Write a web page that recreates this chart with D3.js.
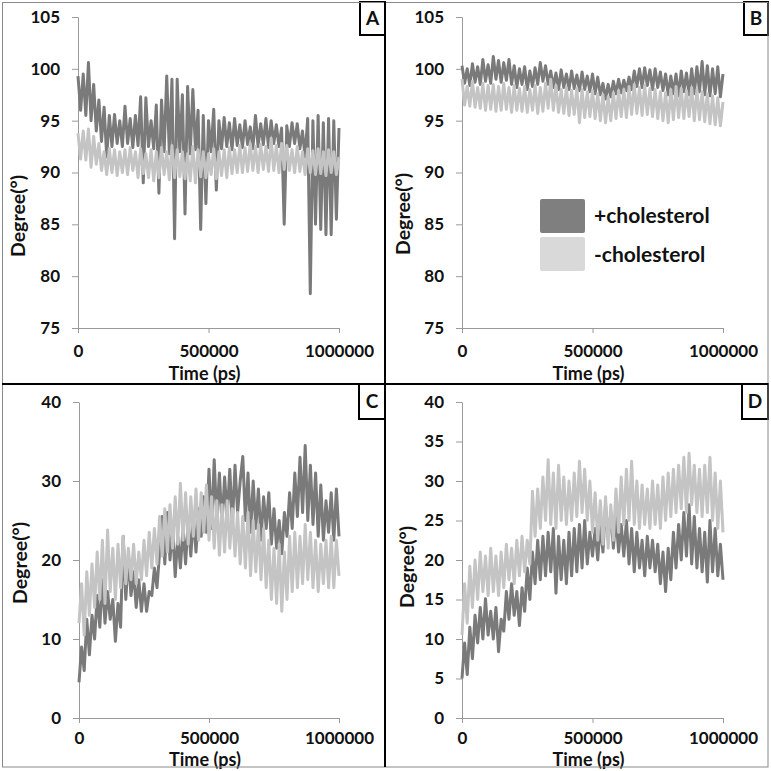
<!DOCTYPE html>
<html><head><meta charset="utf-8">
<script src="https://cdn.jsdelivr.net/npm/d3@7"></script>
<style>
html,body{margin:0;padding:0;background:#fff;}
svg{display:block;}
text{font-family:Lato,"Open Sans",sans-serif;font-weight:700;fill:#111;}
</style></head>
<body>
<script>
// ---------- DATA ----------
const times = d3.range(0, 1000001, 10000); // sampling times (ps)
const xTicks = [0, 500000, 1000000];
const yTicksAB = [75, 80, 85, 90, 95, 100, 105];
const yTicksC = [0, 10, 20, 30, 40];
const yTicksD = [0, 5, 10, 15, 20, 25, 30, 35, 40];
const panelLetters = ["A", "B", "C", "D"];
const seriesNames = ["+cholesterol", "-cholesterol"];

const A_plus = [99.3,96.0,99.5,95.5,100.6,95.0,98.5,94.0,97.0,93.0,96.3,91.5,95.5,92.5,95.6,92.8,95.0,92.5,96.4,92.8,
95.2,92.4,95.5,92.6,97.3,89.0,97.2,92.5,95.0,92.3,96.5,88.0,97.0,92.0,99.3,91.8,99.0,83.6,99.0,92.0,
97.5,86.0,98.3,91.8,98.0,92.2,96.0,84.5,95.5,87.0,95.0,92.0,96.1,88.3,95.0,92.3,95.3,92.5,94.8,92.2,
95.2,92.6,94.6,92.4,95.0,92.7,94.4,92.3,95.5,92.5,94.7,92.7,95.2,92.4,95.0,92.8,94.6,92.5,94.3,85.0,
94.5,92.5,94.8,92.8,94.7,92.3,94.0,91.5,95.2,78.3,95.0,85.0,95.5,84.5,94.8,84.0,95.2,84.0,95.0,85.5,94.3];
const A_minus = [93.8,91.3,94.0,91.2,94.2,90.5,93.5,90.8,92.8,90.2,92.0,89.8,92.3,90.0,92.2,89.7,92.0,90.0,92.2,89.8,
92.4,90.2,92.0,89.5,92.3,89.9,91.8,89.5,92.2,89.2,92.0,89.5,92.4,89.8,92.0,89.3,92.6,89.5,92.2,89.6,
92.0,89.4,91.8,89.2,92.5,89.0,92.2,89.6,92.0,89.5,91.8,89.8,92.3,89.4,92.0,89.7,92.2,89.5,92.4,89.9,
92.2,90.0,92.6,90.0,92.4,90.1,92.8,90.2,92.5,90.0,92.7,90.3,92.5,90.1,93.3,90.2,92.6,90.0,92.8,90.3,
92.6,90.2,92.2,90.0,92.5,90.1,92.0,89.8,92.3,90.0,92.1,89.8,92.3,89.9,92.0,89.7,92.2,90.0,92.0,89.8,91.5];

const B_plus = [100.3,98.6,100.0,98.4,100.5,98.7,100.2,98.5,100.9,98.8,100.4,98.6,101.2,99.0,100.8,98.7,100.6,98.9,100.9,98.5,
100.3,98.2,100.0,98.5,100.2,98.0,99.8,98.3,100.1,98.5,100.6,98.8,100.3,98.5,99.8,98.2,99.6,98.0,99.9,98.2,
99.5,98.0,99.8,98.1,99.4,97.9,99.7,98.0,99.3,97.8,99.5,97.6,99.2,97.5,98.6,97.1,98.5,97.3,98.8,97.6,
99.0,97.7,98.9,97.9,99.2,98.0,99.8,98.3,100.0,98.2,100.1,98.4,99.9,98.0,100.0,98.2,99.7,97.9,99.5,97.5,
99.3,97.6,99.5,97.4,99.8,97.8,99.6,97.5,100.0,97.6,100.2,97.8,100.7,97.5,100.3,97.4,100.0,97.6,100.2,97.3,99.5];
const B_minus = [99.0,96.5,98.3,96.4,98.8,96.3,98.2,96.2,98.6,96.0,98.4,96.1,98.5,95.9,98.3,96.0,98.6,96.1,98.2,95.8,
98.4,96.0,98.1,95.9,98.3,95.8,98.0,96.0,98.4,95.7,98.2,95.9,98.6,96.2,99.0,96.0,98.4,95.8,98.0,95.7,
98.2,95.5,97.9,95.6,98.1,94.8,98.0,95.3,97.8,95.4,97.9,95.2,97.6,95.0,97.5,94.8,97.3,95.0,97.7,95.2,
97.9,95.4,98.0,95.3,98.3,95.6,98.5,95.7,98.2,95.5,98.4,95.6,98.1,95.4,98.0,95.2,97.8,95.0,97.7,94.8,
98.0,95.1,98.3,95.3,98.1,95.2,97.9,95.4,98.2,95.0,98.0,95.1,97.8,94.9,97.6,94.7,97.4,94.6,97.2,94.5,96.8];

const C_plus = [4.5,9.0,6.0,12.5,8.0,13.0,10.0,15.5,11.5,17.5,12.0,16.0,12.5,15.0,9.7,14.5,11.5,23.0,15.0,20.5,
15.5,18.5,14.0,17.5,13.5,17.0,13.5,16.0,15.5,19.0,16.5,21.0,25.5,19.5,26.0,20.0,24.0,17.9,23.0,19.0,
24.0,19.5,25.0,20.5,25.5,21.0,26.5,23.0,28.0,23.5,31.5,24.0,32.7,25.0,31.0,24.5,30.5,25.5,31.5,24.5,
32.0,26.0,30.0,33.1,25.0,31.0,23.5,30.0,24.0,29.0,22.5,28.0,24.0,28.5,22.0,26.5,21.5,25.0,20.8,26.0,
23.0,28.5,24.0,31.0,25.5,33.0,26.0,34.5,25.0,32.0,24.5,31.0,23.0,29.5,22.5,27.5,23.5,28.5,22.5,29.0,23.0];
const C_minus = [12.0,17.0,10.5,18.5,13.0,19.5,14.0,21.0,15.0,22.5,14.5,23.8,16.0,21.5,15.0,22.0,16.5,23.0,17.0,21.5,
17.5,22.0,17.0,21.0,17.5,22.5,18.0,23.5,19.0,24.0,19.5,25.5,20.5,26.5,21.0,27.0,21.5,28.0,22.0,29.7,
22.5,28.5,22.0,28.0,23.0,29.0,22.5,28.5,23.5,29.5,22.5,28.0,21.5,27.5,20.6,27.0,21.0,27.5,21.5,26.5,
20.5,26.0,19.5,25.5,19.0,26.0,18.0,25.0,18.5,24.5,17.5,24.0,16.5,22.5,15.0,21.5,14.5,22.0,13.5,21.0,
15.0,23.0,16.0,23.5,16.5,23.0,17.0,24.5,17.5,23.5,16.5,22.5,16.0,22.0,17.0,22.5,16.5,23.0,16.5,22.5,18.0];

const D_plus = [5.0,9.5,5.5,11.5,7.5,13.0,9.5,14.0,10.0,15.1,10.5,13.5,10.0,14.0,8.4,12.5,11.0,16.0,12.5,17.0,
13.0,16.0,11.7,16.5,13.5,19.0,15.0,21.0,17.0,22.5,17.5,23.0,18.0,23.5,18.5,24.0,15.8,23.0,17.5,22.5,
17.0,23.5,18.0,24.0,18.5,24.5,19.0,25.0,19.5,23.5,20.5,24.0,20.0,24.5,21.0,27.0,22.5,26.0,21.5,25.5,
21.0,24.5,20.5,25.0,19.5,24.0,18.5,23.5,19.0,22.5,18.0,23.0,19.0,22.5,18.5,22.0,17.0,21.0,16.0,21.5,
17.5,23.5,19.0,24.5,20.0,26.0,20.5,27.0,19.5,25.5,19.0,24.0,18.5,23.5,17.2,25.0,18.5,24.0,18.0,22.0,17.5];
const D_minus = [10.5,17.0,12.0,19.2,14.0,20.0,15.0,21.0,16.0,20.5,15.5,21.5,16.0,20.5,15.5,21.0,16.5,22.0,17.5,21.5,
17.0,22.5,18.0,23.0,18.5,22.5,19.5,28.7,23.0,29.0,24.0,30.5,25.0,32.7,24.5,31.0,24.0,32.0,25.0,30.5,
24.5,30.0,25.0,31.0,25.5,32.5,26.0,31.5,25.0,30.0,23.5,28.5,22.5,27.5,22.0,28.0,21.5,27.0,22.5,29.0,
23.5,30.5,24.5,31.5,25.0,32.5,24.5,30.0,24.0,29.5,24.5,29.0,24.0,30.0,24.5,29.5,24.0,30.5,25.0,31.0,
25.5,31.5,26.0,32.0,26.5,33.0,26.0,33.5,27.0,32.0,26.0,31.5,25.5,32.0,26.0,33.0,25.0,31.0,24.0,30.0,23.5];

// ---------- LAYOUT ----------
const W = 771, H = 771;
const colors = ["#7a7a7a", "#c4c4c4"];
const legendColors = ["#7f7f7f", "#d9d9d9"];

const panels = [
  {letter:"A", plot:[78,339,17,328], dom:[75,105], ticks:yTicksAB, data:[A_plus,A_minus],
   box:[360,2,385,35], ylab:[18,216], tOff:52, pad:12},
  {letter:"B", plot:[462,723,17,328], dom:[75,105], ticks:yTicksAB, data:[B_plus,B_minus],
   box:[744,2,768,35], ylab:[403,214], legend:true, tOff:52, pad:12},
  {letter:"C", plot:[79,339,402,718], dom:[0,40], ticks:yTicksC, data:[C_plus,C_minus],
   box:[359,384,385,419], ylab:[20,563], tOff:47.5, pad:9},
  {letter:"D", plot:[462,723,402,718], dom:[0,40], ticks:yTicksD, data:[D_plus,D_minus],
   box:[742,384,768,419], ylab:[407,567], tOff:47.5, pad:9}
];

const svg = d3.select("body").append("svg").attr("width", W).attr("height", H);

panels.forEach((p, pi) => {
  const g = svg.append("g");
  const [x0, x1, yT, yB] = p.plot;
  const x = d3.scaleLinear().domain([0, 1000000]).range([x0, x1]);
  const y = d3.scaleLinear().domain(p.dom).range([yB, yT]);

  // y axis
  const ya = g.append("g").attr("transform", `translate(${x0},0)`)
    .call(d3.axisLeft(y).tickValues(p.ticks).tickSize(6).tickSizeOuter(0).tickPadding(12).tickFormat(d3.format("d")));
  ya.selectAll("path,line").attr("stroke", "#9a9a9a");
  ya.selectAll("text").style("font-size", "17px").attr("fill", "#111");

  // x axis
  const xa = g.append("g").attr("transform", `translate(0,${yB})`)
    .call(d3.axisBottom(x).tickValues(xTicks).tickSize(5).tickSizeOuter(0).tickPadding(p.pad).tickFormat(d3.format("d")));
  xa.selectAll("path,line").attr("stroke", "#9a9a9a");
  xa.selectAll("text").style("font-size", "17px").attr("fill", "#111");

  // series
  const line = d3.line().x((d, i) => x(times[i])).y(d => y(d));
  p.data.forEach((s, si) => {
    g.append("path").datum(s).attr("d", line)
      .attr("fill", "none").attr("stroke", colors[si]).attr("stroke-width", 3)
      .attr("stroke-linejoin", "round");
  });

  // axis titles
  g.append("text").attr("x", (x0 + x1) / 2 - 4).attr("y", yB + p.tOff).attr("text-anchor", "middle")
    .style("font-size", "18px").text("Time (ps)");
  g.append("text").attr("transform", `translate(${p.ylab[0]},${p.ylab[1]}) rotate(-90)`)
    .attr("text-anchor", "middle").attr("dy", "0.35em").style("font-size", "19.5px").text("Degree(°)");

  // letter box
  const [bx0, by0, bx1, by1] = p.box;
  g.append("rect").attr("x", bx0).attr("y", by0).attr("width", bx1 - bx0).attr("height", by1 - by0)
    .attr("fill", "#fff").attr("stroke", "#000").attr("stroke-width", 2);
  g.append("text").attr("x", (bx0 + bx1) / 2).attr("y", (by0 + by1) / 2).attr("dy", "0.36em")
    .attr("text-anchor", "middle").style("font-size", "19px").text(p.letter);

  // legend
  if (p.legend) {
    seriesNames.forEach((n, i) => {
      g.append("rect").attr("x", 540).attr("y", 199 + i * 38).attr("width", 45).attr("height", 34)
        .attr("rx", 2).attr("fill", legendColors[i]);
      g.append("text").attr("x", 594).attr("y", 216 + i * 39).attr("dy", "0.35em")
        .style("font-size", "21px").text(n);
    });
  }
});

// frame and dividers
svg.append("rect").attr("x", 2.5).attr("y", 2.5).attr("width", 765.5).attr("height", 764.5)
  .attr("fill", "none").attr("stroke", "#8a8a8a").attr("stroke-width", 1);
svg.append("line").attr("x1", 385).attr("x2", 385).attr("y1", 2).attr("y2", 767)
  .attr("stroke", "#000").attr("stroke-width", 2);
svg.append("line").attr("x1", 2).attr("x2", 768).attr("y1", 384).attr("y2", 384)
  .attr("stroke", "#000").attr("stroke-width", 2);
</script>
</body></html>
